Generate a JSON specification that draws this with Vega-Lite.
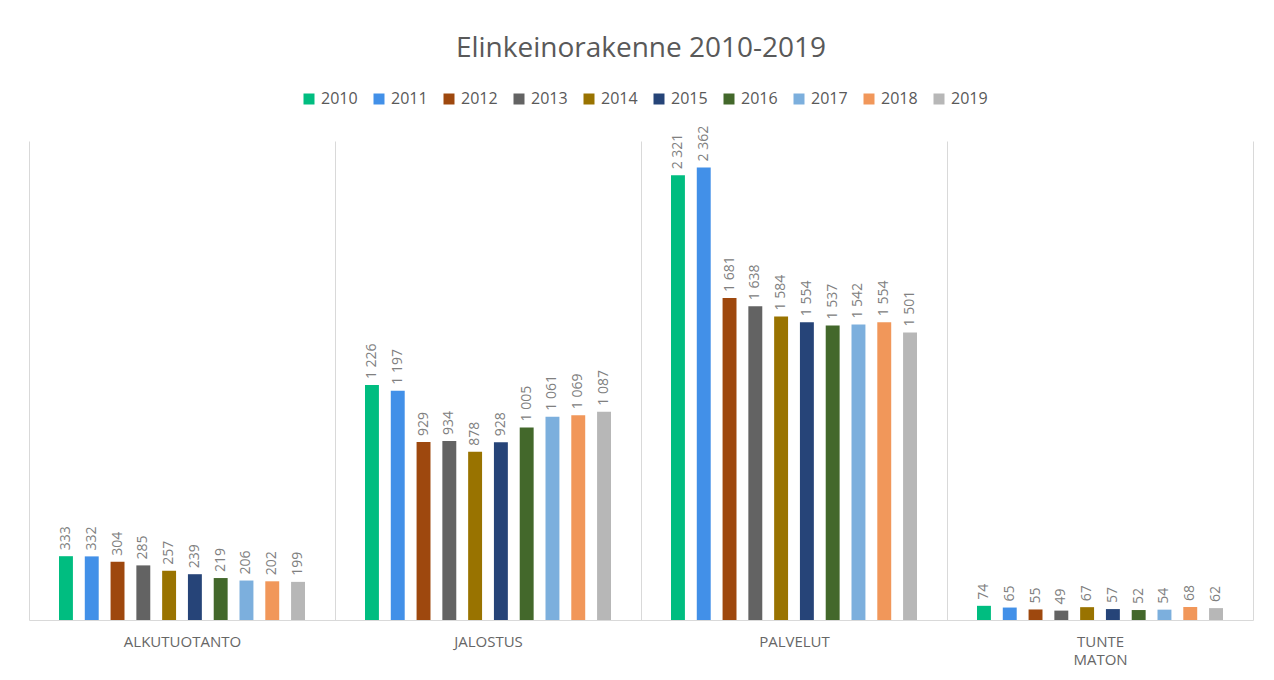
{
  "$schema": "https://vega.github.io/schema/vega-lite/v6.json",
  "width": 1224,
  "height": 479,
  "autosize": "none",
  "padding": {"left": 29, "top": 141, "right": 21, "bottom": 60},
  "background": "white",
  "config": {
    "locale": {"number": {"decimal": ",", "thousands": " ", "grouping": [3], "currency": ["", " €"]}},
    "view": {"stroke": null},
    "font": "Open Sans"
  },
  "title": {"text": "Elinkeinorakenne 2010-2019", "fontSize": 28, "font": "Open Sans", "fontWeight": "normal", "color": "#595959", "anchor": "middle", "offset": 28},
  "data": {"values": [
    {"ala": "ALKUTUOTANTO", "vuosi": "2010", "arvo": 333},
    {"ala": "ALKUTUOTANTO", "vuosi": "2011", "arvo": 332},
    {"ala": "ALKUTUOTANTO", "vuosi": "2012", "arvo": 304},
    {"ala": "ALKUTUOTANTO", "vuosi": "2013", "arvo": 285},
    {"ala": "ALKUTUOTANTO", "vuosi": "2014", "arvo": 257},
    {"ala": "ALKUTUOTANTO", "vuosi": "2015", "arvo": 239},
    {"ala": "ALKUTUOTANTO", "vuosi": "2016", "arvo": 219},
    {"ala": "ALKUTUOTANTO", "vuosi": "2017", "arvo": 206},
    {"ala": "ALKUTUOTANTO", "vuosi": "2018", "arvo": 202},
    {"ala": "ALKUTUOTANTO", "vuosi": "2019", "arvo": 199},
    {"ala": "JALOSTUS", "vuosi": "2010", "arvo": 1226},
    {"ala": "JALOSTUS", "vuosi": "2011", "arvo": 1197},
    {"ala": "JALOSTUS", "vuosi": "2012", "arvo": 929},
    {"ala": "JALOSTUS", "vuosi": "2013", "arvo": 934},
    {"ala": "JALOSTUS", "vuosi": "2014", "arvo": 878},
    {"ala": "JALOSTUS", "vuosi": "2015", "arvo": 928},
    {"ala": "JALOSTUS", "vuosi": "2016", "arvo": 1005},
    {"ala": "JALOSTUS", "vuosi": "2017", "arvo": 1061},
    {"ala": "JALOSTUS", "vuosi": "2018", "arvo": 1069},
    {"ala": "JALOSTUS", "vuosi": "2019", "arvo": 1087},
    {"ala": "PALVELUT", "vuosi": "2010", "arvo": 2321},
    {"ala": "PALVELUT", "vuosi": "2011", "arvo": 2362},
    {"ala": "PALVELUT", "vuosi": "2012", "arvo": 1681},
    {"ala": "PALVELUT", "vuosi": "2013", "arvo": 1638},
    {"ala": "PALVELUT", "vuosi": "2014", "arvo": 1584},
    {"ala": "PALVELUT", "vuosi": "2015", "arvo": 1554},
    {"ala": "PALVELUT", "vuosi": "2016", "arvo": 1537},
    {"ala": "PALVELUT", "vuosi": "2017", "arvo": 1542},
    {"ala": "PALVELUT", "vuosi": "2018", "arvo": 1554},
    {"ala": "PALVELUT", "vuosi": "2019", "arvo": 1501},
    {"ala": "TUNTEMATON", "vuosi": "2010", "arvo": 74},
    {"ala": "TUNTEMATON", "vuosi": "2011", "arvo": 65},
    {"ala": "TUNTEMATON", "vuosi": "2012", "arvo": 55},
    {"ala": "TUNTEMATON", "vuosi": "2013", "arvo": 49},
    {"ala": "TUNTEMATON", "vuosi": "2014", "arvo": 67},
    {"ala": "TUNTEMATON", "vuosi": "2015", "arvo": 57},
    {"ala": "TUNTEMATON", "vuosi": "2016", "arvo": 52},
    {"ala": "TUNTEMATON", "vuosi": "2017", "arvo": 54},
    {"ala": "TUNTEMATON", "vuosi": "2018", "arvo": 68},
    {"ala": "TUNTEMATON", "vuosi": "2019", "arvo": 62}
  ]},
  "encoding": {
    "x": {
      "field": "ala", "type": "nominal",
      "sort": ["ALKUTUOTANTO", "JALOSTUS", "PALVELUT", "TUNTEMATON"],
      "scale": {"paddingInner": 0, "paddingOuter": 0},
      "axis": {
        "title": null, "labelAngle": 0, "labelFontSize": 15, "labelColor": "#666666",
        "labelPadding": 14, "ticks": false, "domainColor": "#d9d9d9", "domainWidth": 1,
        "grid": true, "gridColor": "#d9d9d9", "gridWidth": 1, "tickBand": "extent",
        "labelLineHeight": 18,
        "labelExpr": "datum.value == 'TUNTEMATON' ? ['TUNTE', 'MATON'] : datum.value"
      }
    },
    "xOffset": {"field": "vuosi", "type": "nominal", "scale": {"range": [30, 276], "paddingInner": 0.46, "paddingOuter": 0}},
    "y": {"field": "arvo", "type": "quantitative", "scale": {"domain": [0, 2500]}, "axis": null}
  },
  "layer": [
    {
      "mark": {"type": "bar"},
      "encoding": {
        "color": {
          "field": "vuosi", "type": "nominal",
          "scale": {
            "domain": ["2010", "2011", "2012", "2013", "2014", "2015", "2016", "2017", "2018", "2019"],
            "range": ["#00BD80", "#4290E8", "#9E480E", "#636363", "#997300", "#264478", "#43682B", "#7CAFDD", "#F1975A", "#B7B7B7"]
          },
          "legend": {
            "orient": "none", "legendX": 272, "legendY": -50, "direction": "horizontal", "columns": 10,
            "title": null, "symbolType": "square", "symbolSize": 121, "symbolStrokeWidth": 0,
            "labelFontSize": 16, "labelColor": "#595959", "columnPadding": 13, "labelOffset": 4
          }
        }
      }
    },
    {
      "mark": {"type": "text", "angle": 270, "align": "left", "baseline": "middle", "dx": 6, "fontSize": 14, "color": "#808080"},
      "encoding": {"text": {"field": "arvo", "type": "quantitative", "format": ",d"}}
    }
  ]
}
